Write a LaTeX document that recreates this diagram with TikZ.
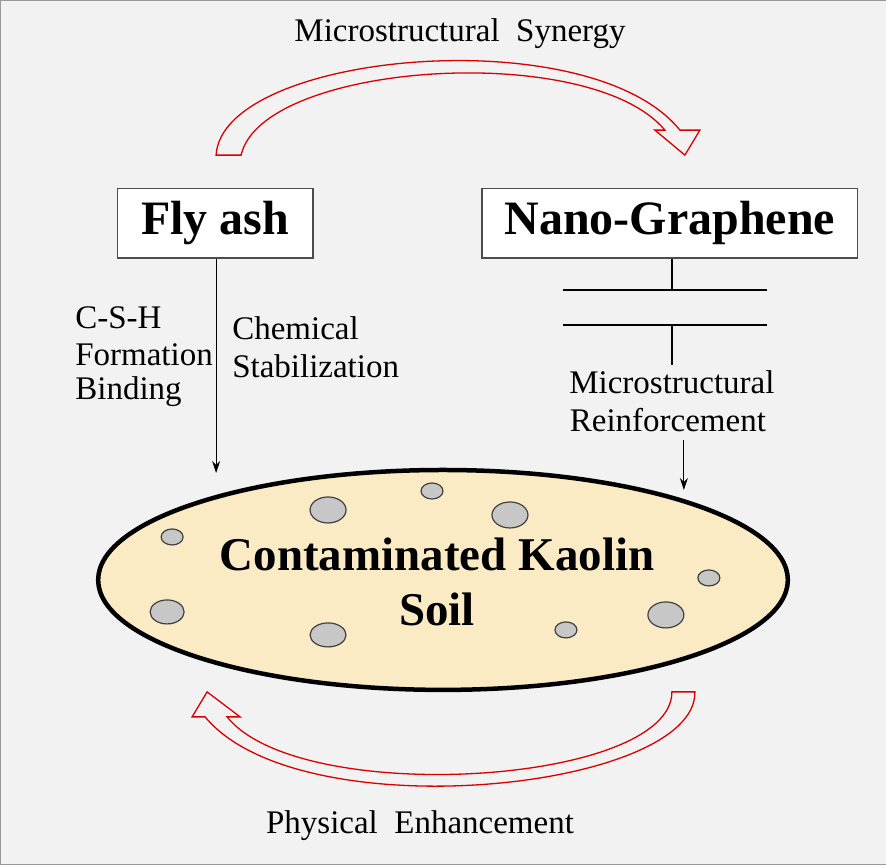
\documentclass[tikz,border=0pt]{standalone}
\usepackage{fontspec}
\setmainfont{Liberation Serif}
\usetikzlibrary{shapes.geometric,arrows.meta}
\definecolor{soilc}{HTML}{FBEBC4}
\begin{document}
\begin{tikzpicture}[x=1pt,y=-1pt,
  lbl/.style={font=\fontsize{33}{36}\selectfont, inner sep=0pt},
  box/.style={draw=black!70, line width=1.2pt, fill=white, font=\fontsize{48}{52}\selectfont\bfseries},
  rarr/.style={draw=red!85!black, line width=1.3pt, fill=none, line join=miter},
  dot/.style={draw=black!75, line width=1.2pt, fill=black!22},
  ar/.style={-{Stealth[length=12pt,width=8pt]}, line width=1pt}]
\path[fill=black!5, draw=black!40] (0,0) rectangle (886,864);
\useasboundingbox (0,0) rectangle (886,864);
\node[lbl] (t1) at (460,33) {Microstructural\ \ Synergy};
\node[lbl] (t2) at (420,826) {Physical\ \ Enhancement};
% top curved arrow
\draw[rarr] (216,155) .. controls (222,52) and (590,18) .. (680,130) -- (700,130) -- (685,155) -- (655,130) -- (665,130) .. controls (590,40) and (262,62) .. (241,155) -- cycle;
% bottom curved arrow
\draw[rarr] (695,692) .. controls (697,790) and (300,832) .. (205,717) -- (192,717) -- (207,692) -- (240,717) -- (227,717) .. controls (300,808) and (672,785) .. (672,692) -- cycle;
\node[box, minimum width=196pt, minimum height=70pt] (fa) at (215,223) {Fly ash};
\node[box, minimum width=376pt, minimum height=70pt] (ng) at (670,223) {Nano-Graphene};
% ellipse
\node[draw=black, line width=4.5pt, fill=soilc, ellipse, minimum width=690pt, minimum height=220pt, inner sep=0pt] (soil) at (443,580) {};
\foreach \x/\y/\a/\b in {172/537/11/8, 328/510/18/13, 432/491/11/8, 510/515/18/13, 167/612/17/12, 328/635/18/12, 566/630/11/8, 666/615/18/13, 709/578/11/8}
  \draw[dot] (\x,\y) ellipse [x radius=\a, y radius=\b];
\node[font=\fontsize{47}{56}\selectfont\bfseries, align=center] (st) at (437,582) {Contaminated Kaolin\\Soil};
% fly ash connector
\coordinate (fa1) at (216,473);
\draw[ar] (fa.south -| fa1) -- (fa1);
\node[lbl, anchor=west] (c1) at (75,318) {C-S-H};
\node[lbl, anchor=west] (c2) at (75,355) {Formation};
\node[lbl, anchor=west] (c3) at (75,392) {Binding};
\node[lbl, anchor=west] (d1) at (232,328) {Chemical};
\node[lbl, anchor=west] (d2) at (232,366) {Stabilization};
% graphene symbol
\coordinate (g1) at (672,290);
\coordinate (g2) at (672,325);
\coordinate (g3) at (672,365);
\coordinate (h1) at (563,290); \coordinate (h2) at (767,290);
\coordinate (h3) at (563,325); \coordinate (h4) at (767,325);
\draw[line width=1.2pt] (ng.south -| g1) -- (g1);
\draw[line width=1.2pt] (h1) -- (h2);
\draw[line width=1.2pt] (h3) -- (h4);
\draw[line width=1.2pt] (g2) -- (g3);
\node[lbl] (m1) at (672,382) {Microstructural};
\node[lbl] (m2) at (668,420) {Reinforcement};
\coordinate (a1) at (684,440);
\coordinate (a2) at (684,490);
\draw[ar] (a1) -- (a2);
\end{tikzpicture}
\end{document}
